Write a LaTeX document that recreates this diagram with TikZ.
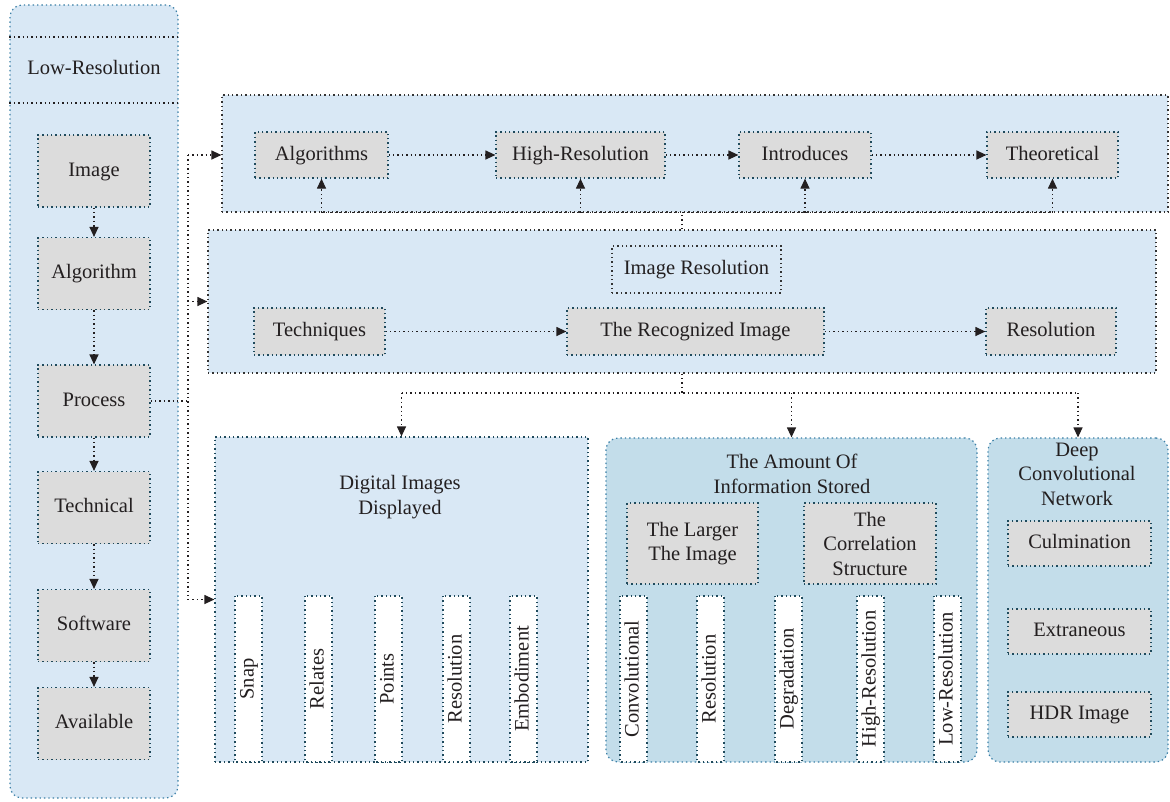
\documentclass[tikz,border=0pt]{standalone}
\usepackage{fontspec}
\setmainfont{Liberation Serif}
\newfontfamily\dserif{Liberation Serif}
\usetikzlibrary{arrows.meta}
\definecolor{lfill}{HTML}{D9E8F5}
\definecolor{dfill}{HTML}{C3DDEA}
\definecolor{gfill}{HTML}{DCDCDC}
\definecolor{bluebd}{HTML}{3A7FA6}
\definecolor{tealbd}{HTML}{1F4A5C}
\definecolor{darkbd}{HTML}{333333}
\definecolor{txt}{HTML}{231F20}
\newcommand\fs{\dserif\fontsize{20.5}{24.5}\selectfont}
\tikzset{
  dots/.style={line width=1.2pt, dash pattern=on 1.4pt off 3pt},
  lbl/.style={font=\fs, text=txt, align=center, inner sep=0pt},
  one/.style={text height=14.5pt, text depth=4.5pt},
  panel/.style={draw=darkbd, dots, fill=lfill, inner sep=0pt},
  rpanel/.style={draw=bluebd, dots, rounded corners=12pt, inner sep=0pt},
  gbox/.style={lbl, draw=tealbd, dots, fill=gfill},
  vbox/.style={lbl, one, draw=tealbd, dots, fill=white, rotate=90, minimum width=166pt, minimum height=27pt},
  conn/.style={draw=txt, dots},
  arr/.style={conn, -{Triangle[length=10pt,width=9pt]}}
}
\begin{document}
\begin{tikzpicture}[x=1pt,y=-1pt]
\useasboundingbox (0,0) rectangle (1170,801);
% left column
\node[rpanel, fill=lfill, minimum width=168pt, minimum height=793pt] (lcol) at (94,401.5) {};
\draw[draw=txt, dots] (lcol.west |- 0,37) -- (lcol.east |- 0,37);
\draw[draw=txt, dots] (lcol.west |- 0,103) -- (lcol.east |- 0,103);
\node[lbl, one] (lowres) at (94,69) {Low-Resolution};
\begin{scope}[every node/.append style={gbox, one, minimum width=112pt, minimum height=72pt}]
\node (img) at (94,171) {Image};
\node (alg) at (94,273.5) {Algorithm};
\node (proc) at (94,401) {Process};
\node (tech) at (94,507.5) {Technical};
\node (soft) at (94,625.5) {Software};
\node (avail) at (94,723.5) {Available};
\end{scope}
\draw[arr] (img) -- (alg);
\draw[arr] (alg) -- (proc);
\draw[arr] (proc) -- (tech);
\draw[arr] (tech) -- (soft);
\draw[arr] (soft) -- (avail);

% top panel
\node[panel, minimum width=946pt, minimum height=117pt] (topbox) at (695,153.5) {};
\begin{scope}[every node/.append style={gbox, one, minimum height=46pt}]
\node[minimum width=133pt] (a1) at (321.5,155) {Algorithms};
\node[minimum width=169pt] (a2) at (580.5,155) {High-Resolution};
\node[minimum width=132pt] (a3) at (805,155) {Introduces};
\node[minimum width=131pt] (a4) at (1052.5,155) {Theoretical};
\end{scope}
\draw[arr] (a1) -- (a2);
\draw[arr] (a2) -- (a3);
\draw[arr] (a3) -- (a4);

% middle panel
\node[panel, minimum width=948pt, minimum height=143pt] (midbox) at (682,301.5) {};
\node[lbl, one, draw=darkbd, dots, minimum width=169pt, minimum height=47pt] (ir) at (696.5,269.5) {Image Resolution};
\begin{scope}[every node/.append style={gbox, one, minimum height=47pt}]
\node[minimum width=131pt] (tq) at (319.5,331.5) {Techniques};
\node[minimum width=257pt] (tri) at (695.5,331.5) {The Recognized Image};
\node[minimum width=130pt] (res) at (1051,331.5) {Resolution};
\end{scope}
\draw[arr] (tq) -- (tri);
\draw[arr] (tri) -- (res);

% up arrows into top panel
\draw[conn] (midbox.north) -- (midbox.north |- topbox.south);
\draw[conn] (a1.south |- topbox.south) -- (a4.south |- topbox.south);
\draw[arr] (a1.south |- topbox.south) -- (a1.south);
\draw[arr] (a2.south |- topbox.south) -- (a2.south);
\draw[arr] (a3.south |- topbox.south) -- (a3.south);
\draw[arr] (a4.south |- topbox.south) -- (a4.south);

% bottom panels
\node[panel, draw=tealbd, minimum width=373pt, minimum height=325pt] (dig) at (401.5,599.5) {};
\node[lbl] (digt) at (400,497) {Digital Images\\Displayed};
\node[vbox] (v1) at (248.5,679) {Snap};
\node[vbox] (v2) at (318.5,679) {Relates};
\node[vbox] (v3) at (388.5,679) {Points};
\node[vbox] (v4) at (456.5,679) {Resolution};
\node[vbox] (v5) at (523.5,679) {Embodiment};

\node[rpanel, fill=dfill, minimum width=371pt, minimum height=324pt] (amt) at (791.5,600) {};
\node[lbl] (amtt) at (792,474) {The Amount Of\\Information Stored};
\node[gbox, minimum width=131pt, minimum height=81pt] (lg) at (692.5,543.5) {The Larger\\The Image};
\node[gbox, minimum width=132pt, minimum height=81pt] (cs) at (870,543.5) {The\\Correlation\\Structure};
\node[vbox] (w1) at (633.5,679) {Convolutional};
\node[vbox] (w2) at (710.5,679) {Resolution};
\node[vbox] (w3) at (788.5,679) {Degradation};
\node[vbox] (w4) at (870.5,679) {High-Resolution};
\node[vbox] (w5) at (947.5,679) {Low-Resolution};

\node[rpanel, fill=dfill, minimum width=180pt, minimum height=324pt] (dcn) at (1078,600) {};
\node[lbl] (dcnt) at (1077,474) {Deep\\Convolutional\\Network};
\begin{scope}[every node/.append style={gbox, one, minimum width=143pt, minimum height=45pt}]
\node (cul) at (1079.5,543.5) {Culmination};
\node (ext) at (1079.5,631.5) {Extraneous};
\node (hdr) at (1079.5,714.5) {HDR Image};
\end{scope}

% down connectors
\coordinate (hb) at (682,393);
\draw[conn] (midbox.south) -- (hb);
\draw[conn] (dig.north |- hb) -- (dcn.north |- hb);
\draw[arr] (dig.north |- hb) -- (dig.north);
\draw[arr] (amt.north |- hb) -- (amt.north);
\draw[arr] (dcn.north |- hb) -- (dcn.north);

% left connectors from Process
\coordinate (j) at (188,401);
\draw[conn] (proc.east) -- (j);
\draw[conn] (j |- a1) -- (j |- dig.west);
\draw[arr] (j |- a1) -- (topbox.west |- a1);
\draw[arr] (j |- midbox.west) -- (midbox.west);
\draw[arr] (j |- dig.west) -- (dig.west);
\end{tikzpicture}
\end{document}
